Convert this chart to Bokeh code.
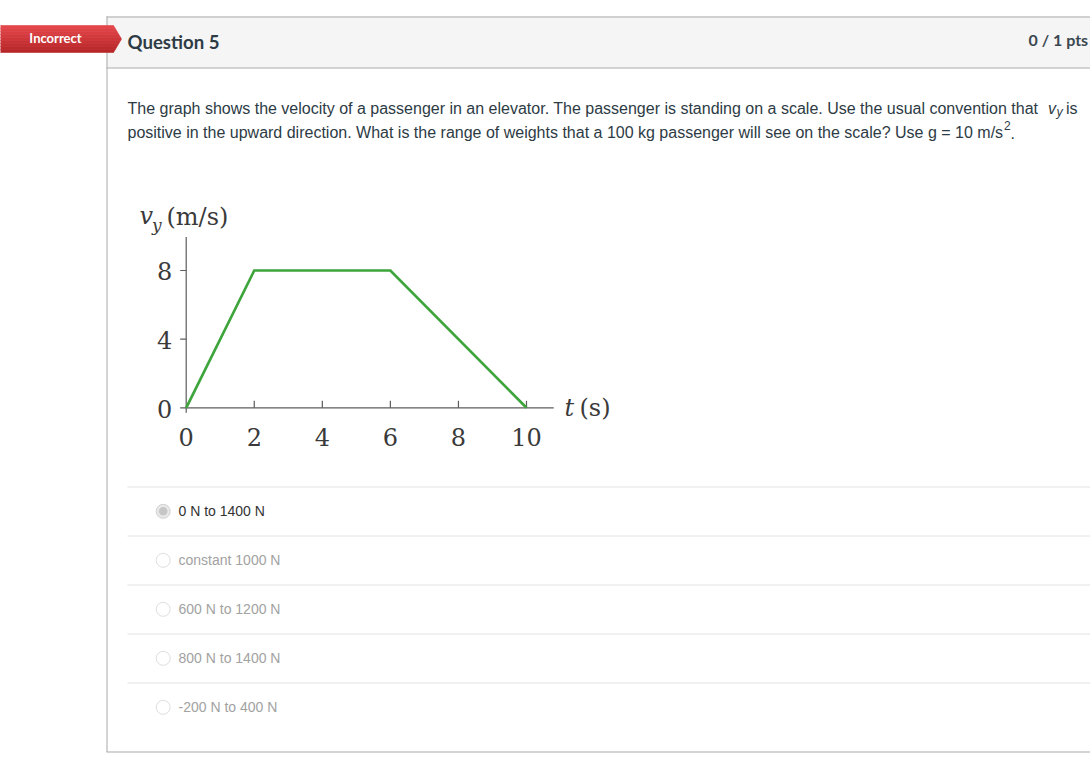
from bokeh.plotting import figure
from bokeh.models import Range1d
from bokeh.core.properties import value
from bokeh.embed import file_html
from bokeh.resources import INLINE

# ---------------- data ----------------
t_s = [0, 2, 6, 10]          # time (s)
vy = [0, 8, 8, 0]            # velocity (m/s)
x_ticks = [0, 2, 4, 6, 8, 10]
y_ticks = [0, 4, 8]
x_tick_labels = [str(v) for v in x_ticks]
y_tick_labels = [str(v) for v in y_ticks]
options = ["0 N to 1400 N", "constant 1000 N", "600 N to 1200 N",
           "800 N to 1400 N", "-200 N to 400 N"]
selected = [True, False, False, False, False]

# ---------------- page figure (page-pixel coordinates) ----------------
W, H = 1090, 766
p = figure(width=W, height=H, x_range=Range1d(0, W), y_range=Range1d(0, H),
           output_backend="svg", toolbar_location=None, min_border=0,
           x_axis_location=None, y_axis_location=None)
p.grid.visible = False
p.outline_line_color = None
p.background_fill_color = "white"
p.border_fill_color = "white"


def Y(py):
    return H - py


SANS = value("Liberation Sans")
LATO = value("Lato")
SERIF = value("DejaVu Serif")
TEXT_C = "#2d3b45"
BORDER = "#a9a9a9"

# header bar
p.quad(left=[106], right=[1095], top=[Y(16)], bottom=[Y(67)],
       fill_color="#f5f5f5", line_color=None)
p.segment(x0=[106, 106, 106.5, 106], y0=[Y(16.5), Y(67.5), Y(16), Y(751.5)],
          x1=[1095, 1095, 106.5, 1095], y1=[Y(16.5), Y(67.5), Y(751.5), Y(751.5)],
          line_color=BORDER, line_width=1)

# red "Incorrect" tag with a vertical gradient (bands)
top_c, bot_c = (0xE6, 0x48, 0x4C), (0xB5, 0x24, 0x27)
def tag_x(yy):
    return 113 + 8 * max(0.0, 1 - abs(yy - 38.5) / 13.5)
xs, ys, cols = [], [], []
nb = 9
for i in range(nb):
    y0 = 25 + 27 * i / nb
    y1 = 25 + 27 * (i + 1) / nb
    px = [-2, tag_x(y0)]
    py = [y0, y0]
    if y0 < 38.5 < y1:
        px.append(121); py.append(38.5)
    px += [tag_x(y1), -2]
    py += [y1, y1]
    xs.append(px); ys.append([Y(v) for v in py])
    f = (i + 0.5) / nb
    c = tuple(int(round(a + (b - a) * f)) for a, b in zip(top_c, bot_c))
    cols.append("#%02x%02x%02x" % c)
p.patches(xs=xs, ys=ys, fill_color=cols, line_color=cols, line_width=0.6)
p.text(x=[55], y=[Y(37.8)], text=["Incorrect"], text_font=LATO, text_font_style="bold",
       text_font_size="13px", text_color="white", text_align="center", text_baseline="middle")

# header texts
p.text(x=[127], y=[Y(41.5)], text=["Question 5"], text_font=LATO, text_font_style="bold",
       text_font_size="18.6px", text_color=TEXT_C, text_baseline="alphabetic")
p.text(x=[1028], y=[Y(38.5)], text=["0 / 1 pts"], text_font=LATO, text_font_style="bold",
       text_font_size="16px", text_color="#3b4750", text_baseline="alphabetic")

# question text
line1 = "The graph shows the velocity of a passenger in an elevator. The passenger is standing on a scale. Use the usual convention that"
line2 = "positive in the upward direction. What is the range of weights that a 100 kg passenger will see on the scale? Use g = 10 m/s"
p.text(x=[127, 127], y=[Y(108), Y(132)], text=[line1, line2], text_font=SANS,
       text_font_size="16px", text_color=TEXT_C, text_baseline="alphabetic")
p.text(x=[1047.5], y=[Y(108)], text=["v"], text_font=SANS, text_font_style="italic",
       text_font_size="16px", text_color=TEXT_C, text_baseline="alphabetic")
p.text(x=[1056], y=[Y(111.5)], text=["y"], text_font=SANS, text_font_style="italic",
       text_font_size="12.5px", text_color=TEXT_C, text_baseline="alphabetic")
p.text(x=[1065.5], y=[Y(108)], text=["is"], text_font=SANS,
       text_font_size="16px", text_color=TEXT_C, text_baseline="alphabetic")
p.text(x=[1003.5], y=[Y(125)], text=["2"], text_font=SANS,
       text_font_size="12px", text_color=TEXT_C, text_baseline="alphabetic")
p.text(x=[1010], y=[Y(132)], text=["."], text_font=SANS,
       text_font_size="16px", text_color=TEXT_C, text_baseline="alphabetic")

# ---------------- the velocity graph (own data scales) ----------------
X0_PX, X10_PX = 185.7, 526.0
Y0_PX, Y8_PX = 407.3, 270.0
g = p.subplot(x_source=Range1d(0, 10), y_source=Range1d(0, 8),
              x_target=Range1d(X0_PX, X10_PX), y_target=Range1d(Y(Y0_PX), Y(Y8_PX)))
ux = (X10_PX - X0_PX) / 10.0       # px per second
uy = (Y0_PX - Y8_PX) / 8.0         # px per m/s
AXIS_C = "#5c5c5c"
LABEL_C = "#3a3a3a"
X_END, Y_END = 10.8, 9.95
# axis lines
g.segment(x0=[0, 0], y0=[0, -5 / uy], x1=[X_END, 0], y1=[0, Y_END],
          line_color=AXIS_C, line_width=1.2)
# y ticks (outward, left)
g.segment(x0=[-6 / ux] * len(y_ticks), y0=y_ticks, x1=[0] * len(y_ticks), y1=y_ticks,
          line_color=AXIS_C, line_width=1.2)
# x ticks (inward, up)
xt = x_ticks[1:]
g.segment(x0=xt, y0=[0] * len(xt), x1=xt, y1=[7 / uy] * len(xt),
          line_color=AXIS_C, line_width=1.2)
# tick labels
g.text(x=[0] * len(y_ticks), y=y_ticks, text=y_tick_labels, text_font=SERIF,
       text_font_size="24px", text_color=LABEL_C, text_align="right",
       text_baseline="alphabetic", x_offset=-14, y_offset=0.8)
g.text(x=x_ticks, y=[0] * len(x_ticks), text=x_tick_labels, text_font=SERIF,
       text_font_size="24px", text_color=LABEL_C, text_align="center",
       text_baseline="alphabetic", y_offset=28.7)
# the data line
g.line(t_s, vy, line_color="#3da53b", line_width=2.7, line_join="miter")

# axis titles
p.text(x=[139], y=[Y(215)], text=["v"], text_font=SERIF, text_font_style="italic",
       text_font_size="24px", text_color=LABEL_C, text_baseline="alphabetic")
p.text(x=[151.5], y=[Y(224)], text=["y"], text_font=SERIF, text_font_style="italic",
       text_font_size="17px", text_color=LABEL_C, text_baseline="alphabetic")
p.text(x=[166], y=[Y(216)], text=["(m/s)"], text_font=SERIF,
       text_font_size="24px", text_color=LABEL_C, text_baseline="alphabetic")
p.text(x=[564], y=[Y(407)], text=["t"], text_font=SERIF, text_font_style="italic",
       text_font_size="24px", text_color=LABEL_C, text_baseline="alphabetic")
p.text(x=[579], y=[Y(407)], text=["(s)"], text_font=SERIF,
       text_font_size="24px", text_color=LABEL_C, text_baseline="alphabetic")

# ---------------- answer options ----------------
ROW0, ROW_H = 486.5, 49
n = len(options)
sep_y = [Y(ROW0 + ROW_H * i) for i in range(n)]
p.segment(x0=[127] * n, y0=sep_y, x1=[1095] * n, y1=sep_y, line_color="#e2e2e2", line_width=1)
cy = [Y(ROW0 + 24.3 + ROW_H * i) for i in range(n)]
p.scatter(x=[162.7] * n, y=cy, size=14, marker="circle",
          fill_color=["#e8e8e8" if s else "white" for s in selected],
          line_color=["#d0d0d0" if s else "#dedede" for s in selected], line_width=1)
sel_y = [c for c, s in zip(cy, selected) if s]
p.scatter(x=[162.7] * len(sel_y), y=sel_y, size=8.5, marker="circle",
          fill_color="#c6c6c6", line_color=None)
p.text(x=[178] * n, y=cy, text=options, text_font=SANS,
       text_font_size="14px", text_baseline="alphabetic",
       text_color=["#333333" if s else "#a2a2a2" for s in selected])

open("out.html", "w").write(file_html(p, INLINE))
